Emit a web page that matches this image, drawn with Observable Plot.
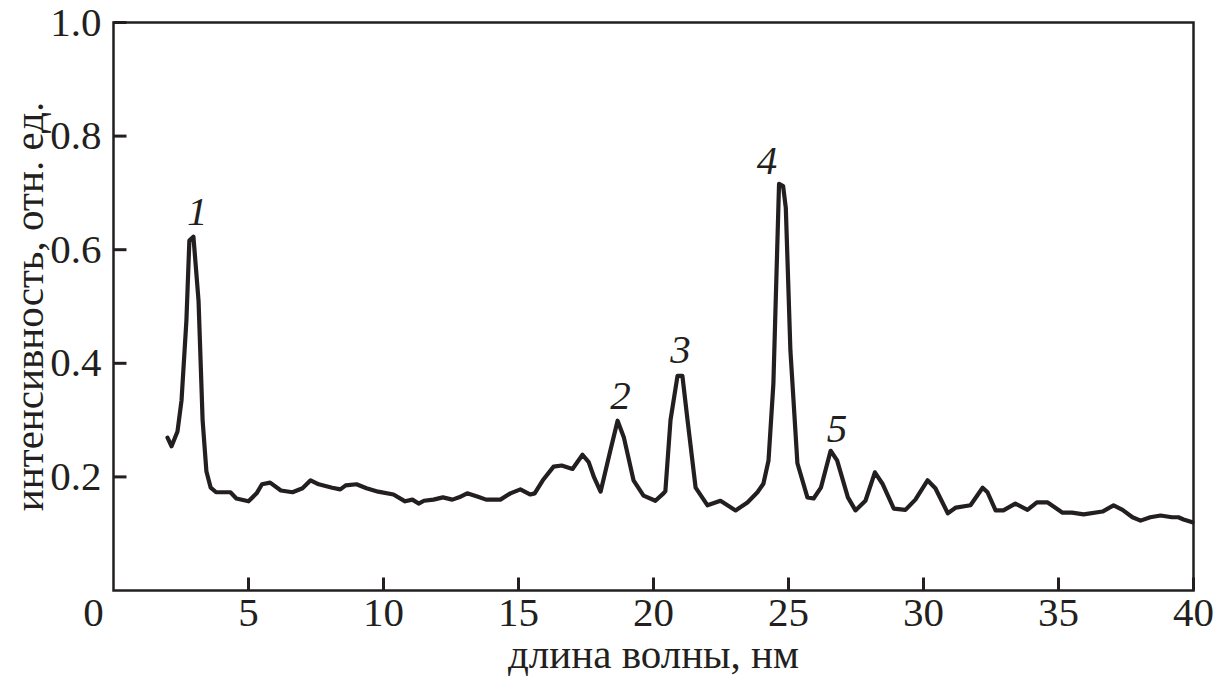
<!DOCTYPE html>
<html>
<head>
<meta charset="utf-8">
<script src="https://cdn.jsdelivr.net/npm/d3@7"></script>
<script src="https://cdn.jsdelivr.net/npm/@observablehq/plot@0.6"></script>
<style>
  html, body { margin: 0; padding: 0; background: #fff; }
</style>
</head>
<body>
<div id="chart"></div>
<script>
const wavelength = [2.0, 2.15, 2.37, 2.52, 2.7, 2.81, 2.96, 3.15, 3.3, 3.44, 3.6, 3.8, 4.33, 4.55, 5.0, 5.3, 5.5, 5.8, 6.2, 6.63, 7.0, 7.3, 7.6, 8.1, 8.4, 8.6, 9.0, 9.37, 9.8, 10.37, 10.8, 11.07, 11.3, 11.5, 11.85, 12.2, 12.55, 12.8, 13.1, 13.5, 13.8, 14.33, 14.7, 15.07, 15.44, 15.6, 15.9, 16.3, 16.6, 17.0, 17.37, 17.6, 17.8, 18.04, 18.4, 18.67, 18.9, 19.26, 19.63, 20.07, 20.37, 20.44, 20.63, 20.89, 21.07, 21.26, 21.56, 22.0, 22.48, 23.04, 23.48, 23.85, 24.07, 24.26, 24.44, 24.65, 24.8, 24.9, 25.07, 25.33, 25.7, 25.93, 26.2, 26.56, 26.8, 27.2, 27.48, 27.85, 28.2, 28.48, 28.9, 29.33, 29.7, 30.15, 30.44, 30.9, 31.2, 31.74, 32.19, 32.37, 32.67, 32.96, 33.4, 33.85, 34.2, 34.6, 35.15, 35.5, 35.93, 36.63, 37.04, 37.37, 37.74, 38.04, 38.4, 38.78, 39.2, 39.44, 39.63, 39.96];
const intensity = [0.269, 0.254, 0.28, 0.335, 0.475, 0.616, 0.623, 0.51, 0.30, 0.21, 0.181, 0.173, 0.173, 0.162, 0.157, 0.171, 0.187, 0.19, 0.176, 0.173, 0.18, 0.194, 0.187, 0.181, 0.178, 0.185, 0.187, 0.18, 0.174, 0.169, 0.157, 0.16, 0.153, 0.158, 0.16, 0.164, 0.16, 0.164, 0.171, 0.165, 0.16, 0.16, 0.171, 0.178, 0.169, 0.171, 0.194, 0.218, 0.22, 0.214, 0.239, 0.226, 0.199, 0.174, 0.246, 0.299, 0.27, 0.194, 0.167, 0.158, 0.171, 0.175, 0.30, 0.378, 0.378, 0.30, 0.181, 0.15, 0.158, 0.141, 0.155, 0.173, 0.188, 0.229, 0.364, 0.716, 0.712, 0.674, 0.423, 0.224, 0.164, 0.162, 0.181, 0.246, 0.229, 0.164, 0.141, 0.158, 0.208, 0.188, 0.144, 0.142, 0.16, 0.194, 0.18, 0.136, 0.146, 0.15, 0.181, 0.173, 0.141, 0.141, 0.153, 0.142, 0.155, 0.155, 0.137, 0.137, 0.134, 0.139, 0.15, 0.142, 0.129, 0.123, 0.129, 0.132, 0.129, 0.129, 0.125, 0.12];

const peakLabels = ["1", "2", "3", "4", "5"];
const peakX = [3.1, 18.78, 21.0, 24.2, 26.8];
const peakY = [0.666, 0.343, 0.423, 0.757, 0.285];

const xTicks = [5, 10, 15, 20, 25, 30, 35, 40];
const xOrigin = [0];
const yTicks = [0.2, 0.4, 0.6, 0.8, 1.0];
const xLabel = "длина волны, нм";
const yLabel = "интенсивность, отн. ед.";

const spectrum = wavelength.map((w, i) => ({w, v: intensity[i]}));
const peaks = peakLabels.map((t, i) => ({t, x: peakX[i], y: peakY[i]}));

const ink = "#231f20";
const serif = "'Liberation Serif', 'Times New Roman', serif";

const W = 1220, H = 678, mL = 113, mR = 27, mT = 22, mB = 88, tickLen = 13;
const frameW = W - mL - mR, frameH = H - mT - mB;
const xDomain = [0, 40], yDomain = [0, 1];
// tick length expressed as a fraction of each axis span
const xTickSpan = (yDomain[1] - yDomain[0]) * tickLen / frameH;
const yTickSpan = (xDomain[1] - xDomain[0]) * tickLen / frameW;

const chart = Plot.plot({
  width: W,
  height: H,
  marginLeft: mL,
  marginRight: mR,
  marginTop: mT,
  marginBottom: mB,
  style: {fontFamily: serif, fontSize: "41px", color: ink, background: "#fff"},
  x: {domain: xDomain},
  y: {domain: yDomain},
  marks: [
    // tick labels and axis titles
    Plot.axisX({ticks: xTicks, tickSize: 0, tickPadding: 6, label: xLabel, labelAnchor: "center", labelArrow: "none", labelOffset: 77}),
    Plot.text(xOrigin, {x: d => d, frameAnchor: "bottom", dy: 6, dx: -20, lineAnchor: "top", text: d => String(d)}),
    Plot.axisY({ticks: yTicks, tickSize: 0, tickPadding: 12, tickFormat: d3.format(".1f"), label: yLabel, labelAnchor: "center", labelArrow: "none", labelOffset: 100}),
    // inward tick marks
    Plot.link(xTicks, {x1: d => d, x2: d => d, y1: yDomain[0], y2: yDomain[0] + xTickSpan, stroke: ink, strokeWidth: 3}),
    Plot.link(yTicks, {y1: d => d, y2: d => d, x1: xDomain[0], x2: xDomain[0] + yTickSpan, stroke: ink, strokeWidth: 3}),
    Plot.frame({stroke: ink, strokeWidth: 2.5}),
    Plot.line(spectrum, {x: "w", y: "v", stroke: ink, strokeWidth: 4.2, strokeLinejoin: "round"}),
    Plot.text(peaks, {x: "x", y: "y", text: "t", fontStyle: "italic", fontSize: 41, fill: ink})
  ]
});
document.getElementById("chart").appendChild(chart);
</script>
</body>
</html>
